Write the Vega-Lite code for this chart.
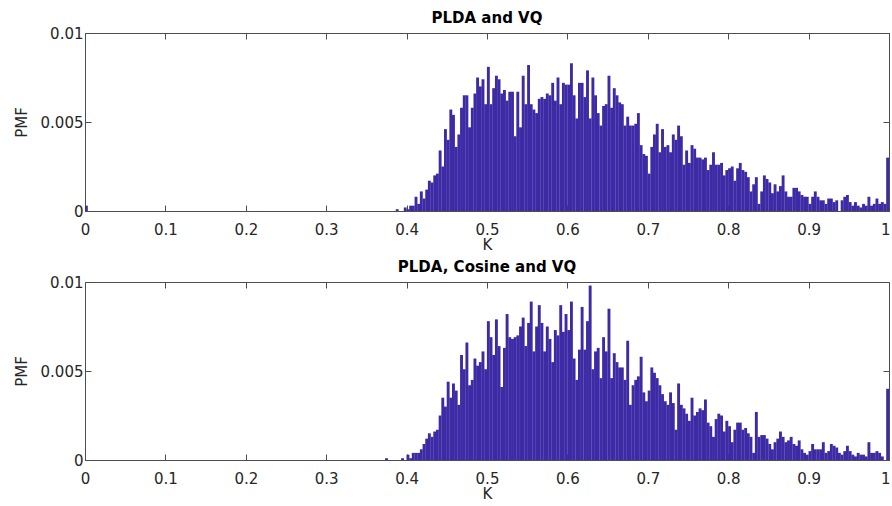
{
"$schema": "https://vega.github.io/schema/vega-lite/v6.json",
"background": "white",
"padding": {"left": 14, "top": 11, "right": 0, "bottom": 0},
"config": {
  "font": "DejaVu Sans",
  "view": {"stroke": null},
  "concat": {"spacing": 8},
  "axis": {"grid": false, "domainColor": "#4d4d4d", "domainWidth": 1, "tickColor": "#4d4d4d", "tickWidth": 1, "labelColor": "#262626", "titleColor": "#262626", "labelFontSize": 15, "titleFontSize": 15, "titleFontWeight": "normal", "labelFlush": false, "labelOverlap": false}
},
"datasets": {
"a": [{"k":0.0017,"p":0.0003},{"k":0.3883,"p":0.0001},{"k":0.3983,"p":0.0002},{"k":0.4017,"p":0.0001},{"k":0.405,"p":0.0003},{"k":0.4083,"p":0.0003},{"k":0.4117,"p":0.0008},{"k":0.415,"p":0.0004},{"k":0.4183,"p":0.0011},{"k":0.4217,"p":0.0007},{"k":0.425,"p":0.0012},{"k":0.4283,"p":0.0017},{"k":0.4317,"p":0.0016},{"k":0.435,"p":0.002},{"k":0.4383,"p":0.0021},{"k":0.4417,"p":0.0034},{"k":0.445,"p":0.0025},{"k":0.4483,"p":0.0046},{"k":0.4517,"p":0.004},{"k":0.455,"p":0.0057},{"k":0.4583,"p":0.0054},{"k":0.4617,"p":0.0036},{"k":0.465,"p":0.0043},{"k":0.4683,"p":0.0058},{"k":0.4717,"p":0.0065},{"k":0.475,"p":0.0065},{"k":0.4783,"p":0.0047},{"k":0.4817,"p":0.0058},{"k":0.485,"p":0.0066},{"k":0.4883,"p":0.0075},{"k":0.4917,"p":0.007},{"k":0.495,"p":0.0074},{"k":0.4983,"p":0.006},{"k":0.5017,"p":0.0081},{"k":0.505,"p":0.006},{"k":0.5083,"p":0.0069},{"k":0.5117,"p":0.0076},{"k":0.515,"p":0.0074},{"k":0.5183,"p":0.0066},{"k":0.5217,"p":0.0068},{"k":0.525,"p":0.0062},{"k":0.5283,"p":0.0067},{"k":0.5317,"p":0.0067},{"k":0.535,"p":0.0042},{"k":0.5383,"p":0.0067},{"k":0.5417,"p":0.0047},{"k":0.545,"p":0.0076},{"k":0.5483,"p":0.006},{"k":0.5517,"p":0.0082},{"k":0.555,"p":0.006},{"k":0.5583,"p":0.0057},{"k":0.5617,"p":0.0055},{"k":0.565,"p":0.0063},{"k":0.5683,"p":0.0064},{"k":0.5717,"p":0.0063},{"k":0.575,"p":0.0066},{"k":0.5783,"p":0.0065},{"k":0.5817,"p":0.0072},{"k":0.585,"p":0.0062},{"k":0.5883,"p":0.0075},{"k":0.5917,"p":0.006},{"k":0.595,"p":0.0072},{"k":0.5983,"p":0.0071},{"k":0.6017,"p":0.0071},{"k":0.605,"p":0.0083},{"k":0.6083,"p":0.0065},{"k":0.6117,"p":0.0052},{"k":0.615,"p":0.0072},{"k":0.6183,"p":0.0072},{"k":0.6217,"p":0.0064},{"k":0.625,"p":0.0079},{"k":0.6283,"p":0.0052},{"k":0.6317,"p":0.0075},{"k":0.635,"p":0.0065},{"k":0.6383,"p":0.0055},{"k":0.6417,"p":0.0048},{"k":0.645,"p":0.0059},{"k":0.6483,"p":0.006},{"k":0.6517,"p":0.0076},{"k":0.655,"p":0.0058},{"k":0.6583,"p":0.0069},{"k":0.6617,"p":0.0065},{"k":0.665,"p":0.0061},{"k":0.6683,"p":0.006},{"k":0.6717,"p":0.0048},{"k":0.675,"p":0.0053},{"k":0.6783,"p":0.0048},{"k":0.6817,"p":0.0048},{"k":0.685,"p":0.0049},{"k":0.6883,"p":0.0055},{"k":0.6917,"p":0.0037},{"k":0.695,"p":0.0032},{"k":0.6983,"p":0.0031},{"k":0.7017,"p":0.0021},{"k":0.705,"p":0.0036},{"k":0.7083,"p":0.0043},{"k":0.7117,"p":0.0049},{"k":0.715,"p":0.0033},{"k":0.7183,"p":0.0046},{"k":0.7217,"p":0.0036},{"k":0.725,"p":0.0037},{"k":0.7283,"p":0.0033},{"k":0.7317,"p":0.0043},{"k":0.735,"p":0.004},{"k":0.7383,"p":0.0048},{"k":0.7417,"p":0.0042},{"k":0.745,"p":0.0026},{"k":0.7483,"p":0.0034},{"k":0.7517,"p":0.0027},{"k":0.755,"p":0.0037},{"k":0.7583,"p":0.0035},{"k":0.7617,"p":0.003},{"k":0.765,"p":0.003},{"k":0.7683,"p":0.0029},{"k":0.7717,"p":0.003},{"k":0.775,"p":0.0023},{"k":0.7783,"p":0.0026},{"k":0.7817,"p":0.0033},{"k":0.785,"p":0.0026},{"k":0.7883,"p":0.0026},{"k":0.7917,"p":0.0027},{"k":0.795,"p":0.002},{"k":0.7983,"p":0.0023},{"k":0.8017,"p":0.0024},{"k":0.805,"p":0.0025},{"k":0.8083,"p":0.0017},{"k":0.8117,"p":0.0024},{"k":0.815,"p":0.0027},{"k":0.8183,"p":0.0023},{"k":0.8217,"p":0.0022},{"k":0.825,"p":0.0019},{"k":0.8283,"p":0.0011},{"k":0.8317,"p":0.0015},{"k":0.835,"p":0.0019},{"k":0.8383,"p":0.0004},{"k":0.8417,"p":0.0011},{"k":0.845,"p":0.002},{"k":0.8483,"p":0.0018},{"k":0.8517,"p":0.0016},{"k":0.855,"p":0.001},{"k":0.8583,"p":0.0015},{"k":0.8617,"p":0.0011},{"k":0.865,"p":0.0014},{"k":0.8683,"p":0.002},{"k":0.8717,"p":0.0011},{"k":0.875,"p":0.0008},{"k":0.8783,"p":0.0008},{"k":0.8817,"p":0.0013},{"k":0.885,"p":0.0013},{"k":0.8883,"p":0.0011},{"k":0.8917,"p":0.0009},{"k":0.895,"p":0.0008},{"k":0.8983,"p":0.0008},{"k":0.9017,"p":0.0004},{"k":0.905,"p":0.0008},{"k":0.9083,"p":0.0011},{"k":0.9117,"p":0.0008},{"k":0.915,"p":0.0006},{"k":0.9183,"p":0.0006},{"k":0.9217,"p":0.0004},{"k":0.925,"p":0.0007},{"k":0.9283,"p":0.0007},{"k":0.9317,"p":0.0005},{"k":0.935,"p":0.0006},{"k":0.9417,"p":0.0006},{"k":0.945,"p":0.0008},{"k":0.9483,"p":0.0009},{"k":0.9517,"p":0.0005},{"k":0.955,"p":0.0003},{"k":0.9583,"p":0.0005},{"k":0.9617,"p":0.0003},{"k":0.965,"p":0.0002},{"k":0.9683,"p":0.0004},{"k":0.9717,"p":0.0003},{"k":0.975,"p":0.0008},{"k":0.9783,"p":0.0003},{"k":0.9817,"p":0.0004},{"k":0.985,"p":0.0007},{"k":0.9883,"p":0.0004},{"k":0.9917,"p":0.0005},{"k":0.995,"p":0.0004},{"k":0.9983,"p":0.003}],
"b": [{"k":0.375,"p":0.0001},{"k":0.395,"p":0.0001},{"k":0.4017,"p":0.0003},{"k":0.405,"p":0.0001},{"k":0.4083,"p":0.0004},{"k":0.4117,"p":0.0004},{"k":0.415,"p":0.0004},{"k":0.4183,"p":0.0006},{"k":0.4217,"p":0.0009},{"k":0.425,"p":0.0012},{"k":0.4283,"p":0.0015},{"k":0.4317,"p":0.0013},{"k":0.435,"p":0.0016},{"k":0.4383,"p":0.0017},{"k":0.4417,"p":0.0025},{"k":0.445,"p":0.0035},{"k":0.4483,"p":0.003},{"k":0.4517,"p":0.0044},{"k":0.455,"p":0.0035},{"k":0.4583,"p":0.0043},{"k":0.4617,"p":0.0039},{"k":0.465,"p":0.0031},{"k":0.4683,"p":0.0059},{"k":0.4717,"p":0.0051},{"k":0.475,"p":0.0066},{"k":0.4783,"p":0.0042},{"k":0.4817,"p":0.0045},{"k":0.485,"p":0.0057},{"k":0.4883,"p":0.0053},{"k":0.4917,"p":0.0055},{"k":0.495,"p":0.0061},{"k":0.4983,"p":0.0051},{"k":0.5017,"p":0.0078},{"k":0.505,"p":0.0069},{"k":0.5083,"p":0.0059},{"k":0.5117,"p":0.0079},{"k":0.515,"p":0.0064},{"k":0.5183,"p":0.0041},{"k":0.5217,"p":0.0063},{"k":0.525,"p":0.0082},{"k":0.5283,"p":0.0069},{"k":0.5317,"p":0.0068},{"k":0.535,"p":0.0069},{"k":0.5383,"p":0.007},{"k":0.5417,"p":0.0075},{"k":0.545,"p":0.008},{"k":0.5483,"p":0.0064},{"k":0.5517,"p":0.0077},{"k":0.555,"p":0.0089},{"k":0.5583,"p":0.0061},{"k":0.5617,"p":0.0075},{"k":0.565,"p":0.0087},{"k":0.5683,"p":0.0077},{"k":0.5717,"p":0.0061},{"k":0.575,"p":0.0075},{"k":0.5783,"p":0.0068},{"k":0.5817,"p":0.0055},{"k":0.585,"p":0.0073},{"k":0.5883,"p":0.007},{"k":0.5917,"p":0.0087},{"k":0.595,"p":0.0072},{"k":0.5983,"p":0.0082},{"k":0.6017,"p":0.0073},{"k":0.605,"p":0.0089},{"k":0.6083,"p":0.0057},{"k":0.6117,"p":0.0045},{"k":0.615,"p":0.0062},{"k":0.6183,"p":0.0086},{"k":0.6217,"p":0.0062},{"k":0.625,"p":0.0078},{"k":0.6283,"p":0.0098},{"k":0.6317,"p":0.0051},{"k":0.635,"p":0.0061},{"k":0.6383,"p":0.0063},{"k":0.6417,"p":0.0046},{"k":0.645,"p":0.0069},{"k":0.6483,"p":0.0061},{"k":0.6517,"p":0.0085},{"k":0.655,"p":0.0046},{"k":0.6583,"p":0.006},{"k":0.6617,"p":0.0055},{"k":0.665,"p":0.0052},{"k":0.6683,"p":0.0052},{"k":0.6717,"p":0.0045},{"k":0.675,"p":0.0067},{"k":0.6783,"p":0.0031},{"k":0.6817,"p":0.0042},{"k":0.685,"p":0.0045},{"k":0.6883,"p":0.0047},{"k":0.6917,"p":0.0058},{"k":0.695,"p":0.0038},{"k":0.6983,"p":0.0033},{"k":0.7017,"p":0.0039},{"k":0.705,"p":0.0052},{"k":0.7083,"p":0.0049},{"k":0.7117,"p":0.0046},{"k":0.715,"p":0.0042},{"k":0.7183,"p":0.0037},{"k":0.7217,"p":0.0033},{"k":0.725,"p":0.0031},{"k":0.7283,"p":0.0038},{"k":0.7317,"p":0.0032},{"k":0.735,"p":0.0017},{"k":0.7383,"p":0.0043},{"k":0.7417,"p":0.0031},{"k":0.745,"p":0.0029},{"k":0.7483,"p":0.0026},{"k":0.7517,"p":0.0022},{"k":0.755,"p":0.0035},{"k":0.7583,"p":0.0025},{"k":0.7617,"p":0.0027},{"k":0.765,"p":0.0029},{"k":0.7683,"p":0.0028},{"k":0.7717,"p":0.0034},{"k":0.775,"p":0.0021},{"k":0.7783,"p":0.0019},{"k":0.7817,"p":0.0013},{"k":0.785,"p":0.0023},{"k":0.7883,"p":0.0026},{"k":0.7917,"p":0.0025},{"k":0.795,"p":0.0016},{"k":0.7983,"p":0.0022},{"k":0.8017,"p":0.0019},{"k":0.805,"p":0.001},{"k":0.8083,"p":0.0017},{"k":0.8117,"p":0.0021},{"k":0.815,"p":0.0021},{"k":0.8183,"p":0.0017},{"k":0.8217,"p":0.0018},{"k":0.825,"p":0.0015},{"k":0.8283,"p":0.0013},{"k":0.8317,"p":0.0004},{"k":0.835,"p":0.0027},{"k":0.8383,"p":0.0013},{"k":0.8417,"p":0.0014},{"k":0.845,"p":0.0014},{"k":0.8483,"p":0.0012},{"k":0.8517,"p":0.0009},{"k":0.855,"p":0.0006},{"k":0.8583,"p":0.001},{"k":0.8617,"p":0.0012},{"k":0.865,"p":0.0016},{"k":0.8683,"p":0.0013},{"k":0.8717,"p":0.001},{"k":0.875,"p":0.0011},{"k":0.8783,"p":0.0013},{"k":0.8817,"p":0.0009},{"k":0.885,"p":0.0008},{"k":0.8883,"p":0.0011},{"k":0.8917,"p":0.0006},{"k":0.895,"p":0.0004},{"k":0.8983,"p":0.0003},{"k":0.9017,"p":0.0005},{"k":0.905,"p":0.0009},{"k":0.9083,"p":0.0006},{"k":0.9117,"p":0.0006},{"k":0.915,"p":0.0006},{"k":0.9183,"p":0.001},{"k":0.9217,"p":0.0004},{"k":0.925,"p":0.0005},{"k":0.9283,"p":0.0009},{"k":0.9317,"p":0.0008},{"k":0.935,"p":0.0007},{"k":0.9383,"p":0.0004},{"k":0.9417,"p":0.0003},{"k":0.945,"p":0.0005},{"k":0.9483,"p":0.0008},{"k":0.9517,"p":0.0005},{"k":0.955,"p":0.0003},{"k":0.9583,"p":0.0002},{"k":0.9617,"p":0.0004},{"k":0.965,"p":0.0003},{"k":0.9683,"p":0.0003},{"k":0.9717,"p":0.0002},{"k":0.975,"p":0.001},{"k":0.9783,"p":0.0004},{"k":0.9817,"p":0.0004},{"k":0.985,"p":0.0005},{"k":0.9883,"p":0.0004},{"k":0.9917,"p":0.0002},{"k":0.9983,"p":0.004}]
},
"vconcat": [
{
  "width": 804, "height": 178,
  "title": {"text": "PLDA and VQ", "fontSize": 15, "fontWeight": "bold", "color": "#000000", "anchor": "middle", "frame": "group", "offset": 0},
  "data": {"name": "a"},
  "layer": [
    {"mark": {"type": "bar", "color": "#3D2AA5", "size": 2.9, "clip": true},
     "encoding": {
       "x": {"field": "k", "type": "quantitative", "scale": {"domain": [0, 1], "nice": false, "zero": false, "padding": 0},
             "axis": {"orient": "bottom", "values": [0,0.1,0.2,0.3,0.4,0.5,0.6,0.7,0.8,0.9,1], "format": "~g", "title": "K", "tickSize": -6, "labelPadding": 17, "titlePadding": 0,
                      "labelAlign": {"condition": {"test": "datum.value === 1", "value": "right"}, "value": "center"},
                      "labelOffset": {"condition": {"test": "datum.value === 1", "value": 1}, "value": 0}}},
       "y": {"field": "p", "type": "quantitative", "scale": {"domain": [0, 0.01], "nice": false},
             "axis": {"orient": "left", "values": [0, 0.005, 0.01], "format": "~g", "title": "PMF", "tickSize": -6, "labelPadding": 8, "titlePadding": 11}}
     }},
    {"mark": {"type": "point", "opacity": 0},
     "encoding": {
       "x": {"field": "k", "type": "quantitative", "axis": {"orient": "top", "values": [0,0.1,0.2,0.3,0.4,0.5,0.6,0.7,0.8,0.9,1], "labels": false, "title": null, "tickSize": -6, "minExtent": 0}},
       "y": {"field": "p", "type": "quantitative", "axis": {"orient": "right", "values": [0, 0.005, 0.01], "labels": false, "title": null, "tickSize": -6, "minExtent": 0}}
     }}
  ],
  "resolve": {"axis": {"x": "independent", "y": "independent"}}
},
{
  "width": 804, "height": 178,
  "title": {"text": "PLDA, Cosine and VQ", "fontSize": 15, "fontWeight": "bold", "color": "#000000", "anchor": "middle", "frame": "group", "offset": 0},
  "data": {"name": "b"},
  "layer": [
    {"mark": {"type": "bar", "color": "#3D2AA5", "size": 2.9, "clip": true},
     "encoding": {
       "x": {"field": "k", "type": "quantitative", "scale": {"domain": [0, 1], "nice": false, "zero": false, "padding": 0},
             "axis": {"orient": "bottom", "values": [0,0.1,0.2,0.3,0.4,0.5,0.6,0.7,0.8,0.9,1], "format": "~g", "title": "K", "tickSize": -6, "labelPadding": 17, "titlePadding": 0,
                      "labelAlign": {"condition": {"test": "datum.value === 1", "value": "right"}, "value": "center"},
                      "labelOffset": {"condition": {"test": "datum.value === 1", "value": 1}, "value": 0}}},
       "y": {"field": "p", "type": "quantitative", "scale": {"domain": [0, 0.01], "nice": false},
             "axis": {"orient": "left", "values": [0, 0.005, 0.01], "format": "~g", "title": "PMF", "tickSize": -6, "labelPadding": 8, "titlePadding": 11}}
     }},
    {"mark": {"type": "point", "opacity": 0},
     "encoding": {
       "x": {"field": "k", "type": "quantitative", "axis": {"orient": "top", "values": [0,0.1,0.2,0.3,0.4,0.5,0.6,0.7,0.8,0.9,1], "labels": false, "title": null, "tickSize": -6, "minExtent": 0}},
       "y": {"field": "p", "type": "quantitative", "axis": {"orient": "right", "values": [0, 0.005, 0.01], "labels": false, "title": null, "tickSize": -6, "minExtent": 0}}
     }}
  ],
  "resolve": {"axis": {"x": "independent", "y": "independent"}}
}
]
}
